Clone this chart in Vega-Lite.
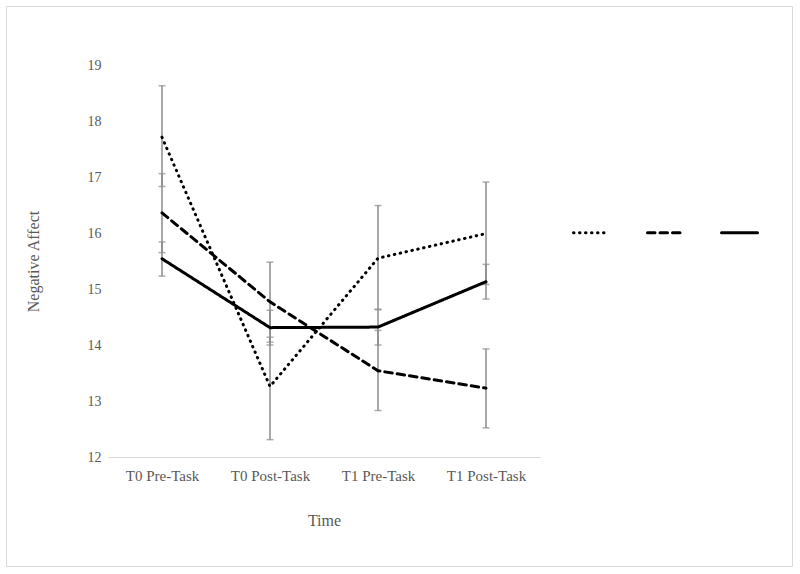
{
  "$schema": "https://vega.github.io/schema/vega-lite/v6.json",
  "width": 786,
  "height": 560,
  "autosize": {"type": "none"},
  "padding": {"left": 6, "top": 6, "right": 8, "bottom": 8},
  "background": "white",
  "config": {
    "view": {"stroke": "#d9d9d9", "strokeWidth": 1},
    "font": "Liberation Serif",
    "axis": {"labelFont": "Liberation Serif", "titleFont": "Liberation Serif"}
  },
  "data": {
    "values": [
      {"series": "Series 1", "time": "T0 Pre-Task", "mean": 17.71, "lo": 16.83, "hi": 18.63},
      {"series": "Series 1", "time": "T0 Post-Task", "mean": 13.26, "lo": 12.31, "hi": 14.14},
      {"series": "Series 1", "time": "T1 Pre-Task", "mean": 15.55, "lo": 14.64, "hi": 16.49},
      {"series": "Series 1", "time": "T1 Post-Task", "mean": 15.99, "lo": 15.08, "hi": 16.91},
      {"series": "Series 2", "time": "T0 Pre-Task", "mean": 16.36, "lo": 15.65, "hi": 17.06},
      {"series": "Series 2", "time": "T0 Post-Task", "mean": 14.77, "lo": 14.05, "hi": 15.48},
      {"series": "Series 2", "time": "T1 Pre-Task", "mean": 13.54, "lo": 12.83, "hi": 14.26},
      {"series": "Series 2", "time": "T1 Post-Task", "mean": 13.23, "lo": 12.52, "hi": 13.93},
      {"series": "Series 3", "time": "T0 Pre-Task", "mean": 15.54, "lo": 15.23, "hi": 15.84},
      {"series": "Series 3", "time": "T0 Post-Task", "mean": 14.31, "lo": 14.0, "hi": 14.62},
      {"series": "Series 3", "time": "T1 Pre-Task", "mean": 14.32, "lo": 14.0, "hi": 14.63},
      {"series": "Series 3", "time": "T1 Post-Task", "mean": 15.13, "lo": 14.82, "hi": 15.44}
    ]
  },
  "encoding": {
    "x": {
      "field": "time",
      "type": "nominal",
      "sort": ["T0 Pre-Task", "T0 Post-Task", "T1 Pre-Task", "T1 Post-Task"],
      "scale": {"type": "point", "range": [102, 534], "padding": 0.5},
      "axis": {
        "title": "Time",
        "offset": -109,
        "labelAngle": 0,
        "ticks": false,
        "domainColor": "#d9d9d9",
        "domainWidth": 1,
        "labelFont": "Liberation Serif",
        "labelFontSize": 15,
        "labelColor": "#595959",
        "labelPadding": 11,
        "titleFont": "Liberation Serif",
        "titleFontSize": 16,
        "titleFontWeight": "normal",
        "titleColor": "#595959",
        "titleY": 68,
        "titleBaseline": "alphabetic"
      }
    }
  },
  "layer": [
    {
      "mark": {"type": "rule", "color": "#8c8c8c", "strokeWidth": 1.5},
      "encoding": {
        "y": {
          "field": "lo",
          "type": "quantitative",
          "scale": {"domain": [12, 19], "range": [451, 59], "nice": false, "zero": false},
          "axis": {
            "title": "Negative Affect",
            "offset": -102,
            "values": [12, 13, 14, 15, 16, 17, 18, 19],
            "format": "d",
            "grid": false,
            "ticks": false,
            "domain": false,
            "labelFont": "Liberation Serif",
            "labelFontSize": 14,
            "labelColor": "#595959",
            "labelPadding": 7,
            "titleFont": "Liberation Serif",
            "titleFontSize": 16,
            "titleFontWeight": "normal",
            "titleColor": "#595959",
            "titleX": -75,
            "titleBaseline": "middle"
          }
        },
        "y2": {"field": "hi"}
      }
    },
    {
      "mark": {"type": "tick", "color": "#8c8c8c", "size": 7, "thickness": 1.5, "orient": "horizontal"},
      "encoding": {"y": {"field": "lo", "type": "quantitative"}}
    },
    {
      "mark": {"type": "tick", "color": "#8c8c8c", "size": 7, "thickness": 1.5, "orient": "horizontal"},
      "encoding": {"y": {"field": "hi", "type": "quantitative"}}
    },
    {
      "mark": {"type": "line", "color": "black", "strokeWidth": 3, "strokeCap": "round"},
      "encoding": {
        "y": {"field": "mean", "type": "quantitative"},
        "strokeDash": {
          "field": "series",
          "type": "nominal",
          "scale": {
            "domain": ["Series 1", "Series 2", "Series 3"],
            "range": [[0.5, 5.5], [7.5, 5], [1, 0]]
          },
          "legend": {
            "orient": "none",
            "legendX": 566,
            "legendY": 207,
            "direction": "horizontal",
            "columns": 3,
            "title": null,
            "padding": 0,
            "labelExpr": "''",
            "labelOffset": 0,
            "columnPadding": 25,
            "symbolType": "stroke",
            "symbolSize": 1296,
            "symbolStrokeWidth": 3,
            "symbolStrokeColor": "black",
            "encode": {"symbols": {"update": {"strokeCap": {"value": "round"}}}}
          }
        }
      }
    }
  ]
}
